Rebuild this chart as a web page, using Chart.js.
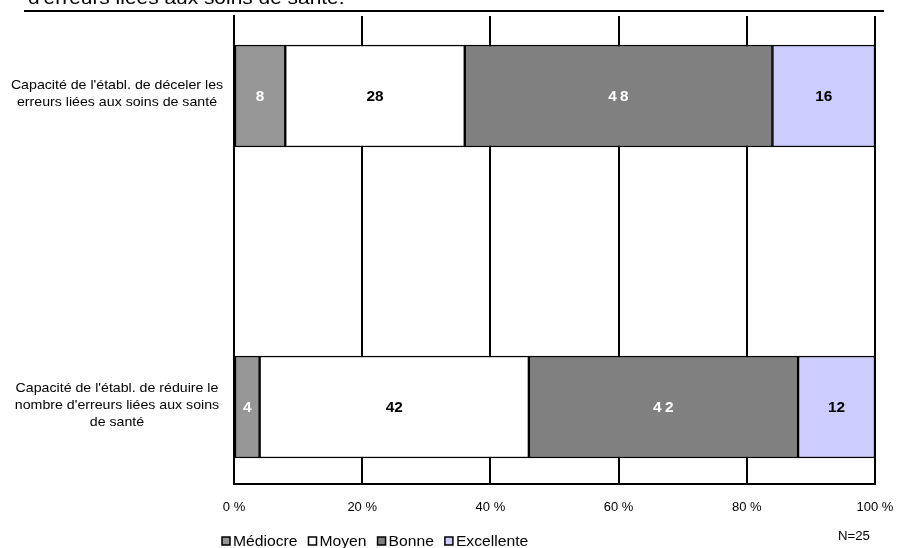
<!DOCTYPE html>
<html>
<head>
<meta charset="utf-8">
<script src="https://cdn.jsdelivr.net/npm/chart.js@4.4.0/dist/chart.umd.min.js"></script>
<style>
  html, body { margin: 0; padding: 0; background: #fff; }
  #wrap { width: 898px; height: 548px; }
</style>
</head>
<body>
<div id="wrap"><canvas id="chart" width="898" height="548"></canvas></div>
<script>
// categories (one array of lines per label)
const categories = [
  ["Capacité de l'établ. de déceler les", "erreurs liées aux soins de santé"],
  ["Capacité de l'établ. de réduire le", "nombre d'erreurs liées aux soins", "de santé"]
];
const seriesNames = ["Médiocre", "Moyen", "Bonne", "Excellente"];
const mediocre = [8, 4];
const moyen = [28, 42];
const bonne = [48, 42];
const excellente = [16, 12];
const xTicks = [0, 20, 40, 60, 80, 100];
const titleTail = "d'erreurs liées aux soins de santé.";
const nLabel = "N=25";

const colors = ["#969696", "#FFFFFF", "#808080", "#CCCCFF"];
const labelColors = ["#FFFFFF", "#000000", "#FFFFFF", "#000000"];
const allValues = [mediocre, moyen, bonne, excellente];

const FONT = "Arial, 'Liberation Sans', sans-serif";
const STRETCH = 1.1; // the reference text is a bit wide

// text drawn a little wider than normal, anchored like fillText
function wideText(ctx, text, x, y, sx) {
  ctx.save();
  ctx.translate(x, y);
  ctx.scale(sx, 1);
  ctx.fillText(text, 0, 0);
  ctx.restore();
}

// draws the bits Excel put around the plot: title line, y labels, values, legend
const decorations = {
  id: "decorations",
  afterDraw(chart) {
    const ctx = chart.ctx;
    const yScale = chart.scales.y;
    ctx.save();

    // cut off title and its rule
    ctx.fillStyle = "#000";
    ctx.font = "19px " + FONT;
    ctx.textAlign = "left";
    ctx.textBaseline = "alphabetic";
    wideText(ctx, titleTail, 28, 4, STRETCH);
    ctx.strokeStyle = "#000";
    ctx.lineWidth = 2;
    ctx.beginPath();
    ctx.moveTo(24, 11);
    ctx.lineTo(884, 11);
    ctx.stroke();

    // category labels
    ctx.font = "13px " + FONT;
    ctx.textAlign = "center";
    ctx.textBaseline = "middle";
    categories.forEach((lines, i) => {
      const yc = yScale.getPixelForValue(i) - 2;
      const start = yc - (lines.length - 1) * 17 / 2;
      lines.forEach((t, k) => wideText(ctx, t, 117, start + k * 17, 1.09));
    });

    // values in the bars
    ctx.font = "bold 14px " + FONT;
    chart.data.datasets.forEach((ds, d) => {
      const meta = chart.getDatasetMeta(d);
      meta.data.forEach((bar, i) => {
        const p = bar.getCenterPoint();
        ctx.fillStyle = labelColors[d];
        ctx.letterSpacing = d === 2 ? "3px" : "0px";
        wideText(ctx, String(allValues[d][i]), p.x + (d === 2 ? 1.5 : 0), p.y + 1, STRETCH);
      });
    });
    ctx.letterSpacing = "0px";

    // legend
    ctx.font = "14px " + FONT;
    ctx.textAlign = "left";
    let x = 222;
    const ly = 541;
    seriesNames.forEach((name, d) => {
      ctx.fillStyle = colors[d];
      ctx.fillRect(x, ly - 4, 8, 8);
      ctx.lineWidth = 1.5;
      ctx.strokeStyle = "#000";
      ctx.strokeRect(x, ly - 4, 8, 8);
      ctx.fillStyle = "#000";
      wideText(ctx, name, x + 11, ly + 1, 1.12);
      x += 11 + ctx.measureText(name).width * 1.12 + 11;
    });

    ctx.font = "12px " + FONT;
    ctx.textAlign = "center";
    wideText(ctx, nLabel, 854, 537, STRETCH);
    ctx.restore();
  }
};

const datasets = seriesNames.map((name, d) => ({
  label: name,
  data: allValues[d].map((v, i) => ({ x: v, y: i })),
  backgroundColor: colors[d],
  borderColor: "#000",
  borderWidth: 1.5,
  borderSkipped: false,
  barThickness: 102,
  stack: "s"
}));

new Chart(document.getElementById("chart"), {
  type: "bar",
  data: { datasets },
  plugins: [decorations],
  options: {
    indexAxis: "y",
    responsive: false,
    animation: false,
    layout: { padding: { top: 16, right: 23, left: 0, bottom: 0 } },
    plugins: { legend: { display: false }, tooltip: { enabled: false } },
    scales: {
      x: {
        type: "linear",
        stacked: true,
        min: 0,
        max: 100,
        afterBuildTicks: s => { s.ticks = xTicks.map(v => ({ value: v })); },
        afterFit: s => { s.height = 64; s.paddingLeft = 0; s.paddingRight = 0; },
        grid: { color: "#000", lineWidth: 2, drawTicks: false },
        border: { color: "#000", width: 2 },
        ticks: {
          padding: 16,
          color: "#000",
          font: { family: FONT, size: 13 },
          callback: v => v + " %"
        }
      },
      y: {
        type: "linear",
        reverse: true,
        offset: false,
        min: -80 / 311,
        max: 1 + 77 / 311,
        afterFit: s => { s.width = 234; },
        grid: { display: false },
        border: { color: "#000", width: 2 },
        ticks: { display: false }
      }
    }
  }
});
</script>
</body>
</html>
